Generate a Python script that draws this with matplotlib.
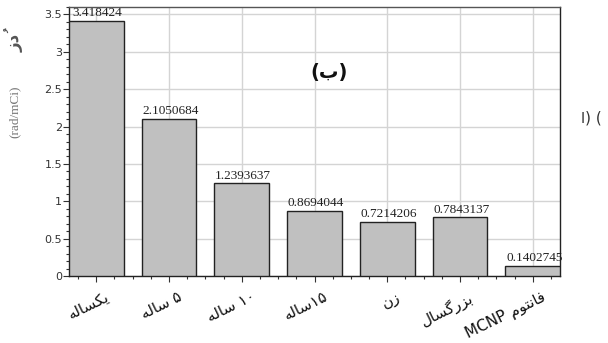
import numpy as np
import matplotlib
matplotlib.use('Agg')
import matplotlib.pyplot as plt
from matplotlib.ticker import MultipleLocator
from matplotlib.transforms import ScaledTranslation

# data (logical Persian order)
categories = ['یکساله', '۵ ساله', '۱۰ ساله', '۱۵ساله', 'زن', 'بزرگسال', 'فانتوم MCNP']
doses = [3.418424, 2.1050684, 1.2393637, 0.8694044, 0.7214206, 0.7843137, 0.1402745]
value_labels = ['3.418424', '2.1050684', '1.2393637', '0.8694044', '0.7214206', '0.7843137', '0.1402745']
ylabel_fa = 'دُز'
ylabel_unit = '(rad/mCi)'
panel_title = '(ب)'
side_note = 'ا) ('

# presentation forms: isolated, final, initial, medial
FORMS = {
    'ا': (0xFE8D, 0xFE8E), 'د': (0xFEA9, 0xFEAA), 'ذ': (0xFEAB, 0xFEAC),
    'ر': (0xFEAD, 0xFEAE), 'ز': (0xFEAF, 0xFEB0), 'و': (0xFEED, 0xFEEE),
    'ب': (0xFE8F, 0xFE90, 0xFE91, 0xFE92), 'ت': (0xFE95, 0xFE96, 0xFE97, 0xFE98),
    'س': (0xFEB1, 0xFEB2, 0xFEB3, 0xFEB4), 'ف': (0xFED1, 0xFED2, 0xFED3, 0xFED4),
    'ک': (0xFB8E, 0xFB8F, 0xFB90, 0xFB91), 'گ': (0xFB92, 0xFB93, 0xFB94, 0xFB95),
    'ل': (0xFEDD, 0xFEDE, 0xFEDF, 0xFEE0), 'م': (0xFEE1, 0xFEE2, 0xFEE3, 0xFEE4),
    'ن': (0xFEE5, 0xFEE6, 0xFEE7, 0xFEE8), 'ه': (0xFEE9, 0xFEEA, 0xFEEB, 0xFEEC),
    'ی': (0xFEF1, 0xFEF2, 0xFEF3, 0xFEF4),
}
MARKS = '\u064b\u064c\u064d\u064e\u064f\u0650\u0651\u0652'


def shape_word(word):
    # group into clusters of base letter + marks
    clusters = []
    for ch in word:
        if ch in MARKS and clusters:
            clusters[-1][1] += ch
        else:
            clusters.append([ch, ''])
    out = []
    for i, (ch, marks) in enumerate(clusters):
        f = FORMS.get(ch)
        if f is None:
            out.append(ch + marks)
            continue
        prev = clusters[i - 1][0] if i > 0 else None
        nxt = clusters[i + 1][0] if i + 1 < len(clusters) else None
        join_prev = prev in FORMS and len(FORMS[prev]) == 4
        join_next = len(f) == 4 and nxt in FORMS
        if join_prev and join_next:
            g = f[3]
        elif join_next:
            g = f[2]
        elif join_prev:
            g = f[1]
        else:
            g = f[0]
        out.append(chr(g) + marks)
    return ''.join(reversed(out))


def visual(s):
    # split into arabic / other runs and lay them out right to left
    runs = []
    for ch in s:
        kind = 'a' if (ch in FORMS or ch in MARKS) else ('s' if ch == ' ' else 'o')
        if runs and runs[-1][0] == kind:
            runs[-1][1] += ch
        else:
            runs.append([kind, ch])
    parts = [shape_word(t) if k == 'a' else t for k, t in runs]
    return ''.join(reversed(parts))


fig = plt.figure(figsize=(6.08, 3.43), dpi=100)
ax = fig.add_axes([0.1135, 0.1953, 0.8076, 0.7843])

x = np.arange(len(categories))
ax.bar(x, doses, width=0.75, color='#c0c0c0', edgecolor='#222222', linewidth=1.0, zorder=3)

for xi, v, lab in zip(x, doses, value_labels):
    ax.text(xi + 0.02, v + 0.025, lab, ha='center', va='bottom', fontsize=9.5,
            family='Liberation Serif', color='#222222', zorder=4)

ax.set_xlim(-0.375, len(categories) - 0.625)
ax.set_ylim(0, 3.6)
ax.yaxis.set_major_locator(MultipleLocator(0.5))
ax.yaxis.set_minor_locator(MultipleLocator(0.1))
ax.xaxis.set_minor_locator(MultipleLocator(0.25))
ax.set_yticks(np.arange(0, 3.51, 0.5))
ax.set_yticklabels(['0', '0.5', '1', '1.5', '2', '2.5', '3', '3.5'])
ax.set_xticks(x)
ax.set_xticklabels([])

# category labels drawn as texts so they can sit a bit right of the tick
lab_tr = ax.get_xaxis_transform() + ScaledTranslation(9 / 100, -13 / 100, fig.dpi_scale_trans)
for xi, c in zip(x, categories):
    ax.text(xi, 0, visual(c), transform=lab_tr, rotation=26, ha='right', va='top',
            rotation_mode='anchor', fontsize=11, family='DejaVu Sans', color='#111111')

ax.tick_params(axis='both', which='major', direction='out', length=4, width=0.8,
               colors='#333333', labelsize=8)
ax.tick_params(axis='both', which='minor', direction='out', length=2.5, width=0.8,
               colors='#333333')
ax.tick_params(axis='y', pad=1)

ax.grid(True, which='major', color='#d4d4d4', linewidth=1.0, zorder=0)
ax.set_axisbelow(True)
for side in ['left', 'bottom', 'right']:
    ax.spines[side].set_color('#222222')
    ax.spines[side].set_linewidth(1.0)
ax.spines['top'].set_color('#555555')
ax.spines['top'].set_linewidth(1.0)

ax.text(0.53, 0.755, panel_title, transform=ax.transAxes, ha='center', va='center',
        fontsize=14, fontweight='bold', family='DejaVu Sans', color='#111111')

fig.text(15 / 608, 1 - 112 / 343, ylabel_unit, rotation=90, ha='center', va='center',
         fontsize=9.5, family='Liberation Serif', color='#777777')
fig.text(14 / 608, 1 - 43 / 343, visual(ylabel_fa), rotation=90, ha='center', va='center',
         fontsize=12, fontweight='bold', family='DejaVu Sans', color='#555555')

fig.text(591 / 608, 1 - 118 / 343, side_note, ha='center', va='center',
         fontsize=11, family='DejaVu Sans', color='#333333')

fig.savefig('out.png', dpi=100)
